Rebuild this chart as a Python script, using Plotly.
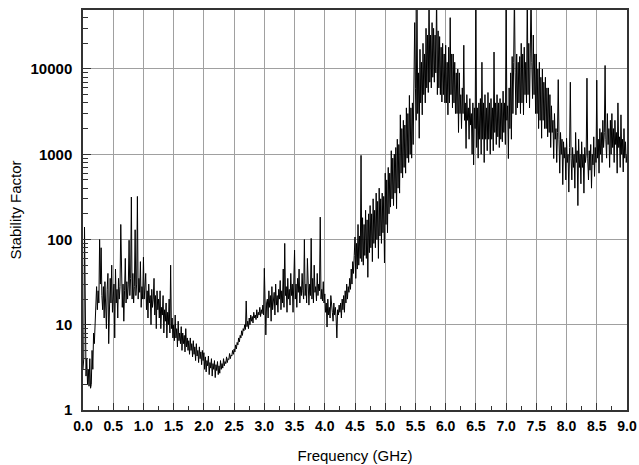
import plotly.graph_objects as go

# Stability factor, one reading every 0.0125 GHz from 0 to 9 GHz
# (values above the top of the plot are clipped spikes)
stability = [
    3, 4, 140, 3.5, 2.5, 4, 2, 3, 1.9, 4, 1.8, 2, 5, 3, 8, 6, 12, 20, 28, 15,
    25, 18, 100, 30, 80, 22, 15, 28, 12, 32, 20, 9, 26, 40, 6, 24, 35, 18, 50, 14,
    22, 30, 7, 45, 18, 26, 12, 35, 20, 28, 150, 22, 16, 30, 11, 25, 60, 18, 32, 20,
    30, 98, 22, 35, 315, 20, 40, 18, 28, 130, 22, 30, 320, 20, 35, 24, 55, 16, 28, 20,
    62, 20, 28, 40, 15, 25, 12, 30, 18, 22, 10, 26, 16, 20, 35, 13, 22, 9, 25, 15,
    20, 12, 25, 9, 16, 13, 22, 8, 15, 11, 18, 7, 14, 10, 20, 8, 50, 9, 12, 7,
    10, 6.5, 13, 7, 9, 5.5, 11, 6.5, 8, 6, 9.5, 5, 8, 6, 7.5, 4.8, 9, 5.5, 7, 5,
    6.5, 4.5, 7, 5, 6, 4.2, 6.5, 4.5, 5.5, 3.8, 6, 4.3, 5, 3.6, 5.5, 4, 4.8, 3.4, 5, 3.8,
    4.7, 3, 4.2, 2.8, 3.8, 3.3, 4.3, 2.6, 3.6, 3.1, 4, 2.5, 3.5, 3, 3.8, 2.4, 3.4, 2.9, 3.7, 2.6,
    3.3, 2.7, 3.8, 3, 3.5, 3.1, 4, 3.3, 3.7, 3.5, 4.2, 3.6, 4, 3.9, 4.6, 4, 4.4, 4.3, 5, 4.5,
    5.2, 4.8, 5.8, 5.2, 6.2, 5.8, 7, 6.3, 7.5, 7, 8.5, 7.5, 9, 8.5, 10, 8.8, 19, 9.5, 11, 9,
    12, 10, 13, 11, 12.5, 10.5, 14, 12, 13, 11.5, 15, 12, 14, 13, 16, 12.5, 15, 13.5, 17, 13,
    46, 14, 7.6, 18, 20, 12, 25, 16, 22, 11, 28, 15, 18, 24, 13, 30, 17, 22, 14, 26,
    20, 33, 15, 25, 18, 45, 16, 90, 22, 28, 14, 35, 20, 26, 17, 40, 22, 30, 14, 27,
    75, 20, 30, 16, 35, 24, 45, 18, 28, 22, 40, 25, 20, 100, 22, 30, 18, 60, 24, 17,
    30, 22, 103, 20, 35, 18, 50, 24, 28, 19, 40, 22, 30, 25, 183, 20, 26, 19, 32, 18,
    23, 14, 18, 9.4, 20, 13, 16, 12, 22, 15, 14, 11, 18, 13, 16, 12, 7, 15, 13, 17,
    14, 18, 12, 20, 15, 22, 14, 25, 18, 30, 20, 28, 24, 35, 26, 45, 30, 55, 40, 65,
    107, 35, 90, 45, 150, 50, 110, 60, 970, 55, 180, 50, 150, 65, 220, 60, 170, 36, 200, 70,
    250, 80, 200, 55, 300, 90, 220, 80, 350, 100, 280, 60, 400, 110, 300, 90, 350, 120, 320, 53,
    600, 150, 500, 120, 700, 200, 600, 240, 1100, 300, 900, 250, 1000, 350, 1200, 230, 1500, 400, 1300, 350,
    2900, 600, 2000, 530, 2500, 700, 2200, 600, 3500, 900, 3000, 800, 4900, 1000, 3500, 900, 4000, 1300, 4500, 35000,
    5900, 2500, 80000, 3000, 9000, 1540, 17000, 4000, 12000, 2900, 20000, 5000, 15000, 4000, 30000, 6000, 25000, 5300, 80000, 7000,
    25000, 6000, 35000, 8000, 30000, 7000, 25000, 9000, 80000, 5000, 28000, 6000, 24000, 5000, 18000, 4100, 20000, 5000, 15000, 4000,
    19000, 4000, 12000, 2900, 18000, 4000, 40000, 5000, 15000, 3500, 15000, 4000, 12000, 3000, 9000, 3000, 10000, 1800, 9000, 3000,
    5000, 2000, 6000, 3000, 19000, 2500, 4000, 1170, 5000, 2500, 3500, 1500, 4500, 2200, 3000, 1000, 4000, 750, 3500, 2000,
    80000, 1200, 3500, 900, 4000, 1500, 4500, 1000, 12000, 1500, 4000, 800, 5000, 1500, 3500, 1100, 5300, 1500, 4000, 1000,
    4500, 1500, 3500, 1100, 15800, 1800, 4000, 1300, 5000, 1600, 4000, 1200, 4500, 1500, 4000, 1400, 5500, 1800, 4000, 1300,
    80000, 2500, 3700, 890, 6000, 2000, 9000, 1500, 14000, 3000, 12000, 80000, 9000, 2900, 15000, 3500, 12000, 4000, 14000, 3000,
    20000, 4000, 15000, 2900, 18000, 5000, 12000, 4000, 80000, 5000, 20000, 3500, 15000, 80000, 12000, 4500, 25000, 5000, 15000, 3000,
    15000, 3000, 10000, 2000, 12000, 2500, 8000, 1540, 10000, 2500, 7000, 2000, 8000, 2000, 6000, 1600, 6000, 1800, 5000, 1200,
    3700, 1800, 2500, 890, 3000, 1500, 2000, 800, 1800, 7500, 1500, 600, 1800, 1000, 1500, 440, 1400, 900, 1200, 500,
    1540, 800, 1000, 360, 1200, 7000, 900, 500, 1200, 700, 1000, 400, 1800, 800, 1100, 250, 1500, 700, 1000, 450,
    1400, 700, 1000, 350, 1200, 800, 1000, 7800, 900, 500, 1100, 650, 1300, 400, 1000, 750, 1600, 550, 1200, 800,
    7400, 900, 1500, 600, 2000, 1000, 1800, 800, 2500, 1200, 1800, 11000, 1500, 900, 3000, 1300, 2000, 700, 2500, 1000,
    3000, 1200, 2000, 800, 2500, 1300, 1800, 600, 4000, 1200, 1600, 700, 2900, 1000, 1500, 620, 2000, 900, 1400, 800,
    1000,
]

freq_max_ghz = 9.0
freq_ghz = [i * freq_max_ghz / (len(stability) - 1) for i in range(len(stability))]

x_ticks = [i * 0.5 for i in range(19)]
x_labels = [f"{v:.1f}" for v in x_ticks]
x_minor = [0.25 + i * 0.5 for i in range(18)]
y_ticks = [1, 10, 100, 1000, 10000]
y_labels = ["1", "10", "100", "1000", "10000"]
y_minor = [m * 10 ** d for d in range(5) for m in range(2, 10) if m * 10 ** d < 49000]

fig = go.Figure()
fig.add_trace(go.Scatter(
    x=freq_ghz, y=stability, mode="lines",
    line=dict(color="black", width=1), showlegend=False, hoverinfo="skip",
))

grid_col = "#a0a0a0"
frame_col = "#333333"
font_fam = "Liberation Sans, Arial, sans-serif"

fig.update_layout(
    width=639, height=465,
    margin=dict(l=83, r=12, t=10, b=55),
    paper_bgcolor="white", plot_bgcolor="white",
    font=dict(family=font_fam, color="black"),
)
fig.update_xaxes(
    range=[0, 9], tickmode="array", tickvals=x_ticks, ticktext=x_labels,
    ticks="inside", ticklen=7, tickcolor=frame_col, tickwidth=1,
    tickfont=dict(size=14, family=font_fam, weight="bold"),
    showgrid=True, gridcolor=grid_col, gridwidth=1,
    showline=True, linecolor=frame_col, linewidth=1.5, mirror=True,
    zeroline=False, ticklabelstandoff=2, automargin=False,
    minor=dict(tickvals=x_minor, ticks="inside", ticklen=4, tickcolor=frame_col, showgrid=False),
    title=dict(text="Frequency (GHz)", font=dict(size=15), standoff=18),
)
fig.update_yaxes(
    type="log", range=[0, 4.692], tickmode="array", tickvals=y_ticks, ticktext=y_labels,
    ticks="inside", ticklen=8, tickcolor=frame_col, tickwidth=1,
    tickfont=dict(size=15, family=font_fam, weight="bold"),
    showgrid=True, gridcolor=grid_col, gridwidth=1,
    showline=True, linecolor=frame_col, linewidth=1.5, mirror=True,
    zeroline=False, ticklabelstandoff=6, automargin=False,
    minor=dict(tickvals=y_minor, ticks="inside", ticklen=5, tickcolor=frame_col, showgrid=False),
    title=dict(text="Stability Factor", font=dict(size=15), standoff=5),
)

fig.write_html(
    "out.html",
    config={"displayModeBar": False},
    post_script="document.body.style.margin='0';document.body.style.overflow='hidden';",
)
